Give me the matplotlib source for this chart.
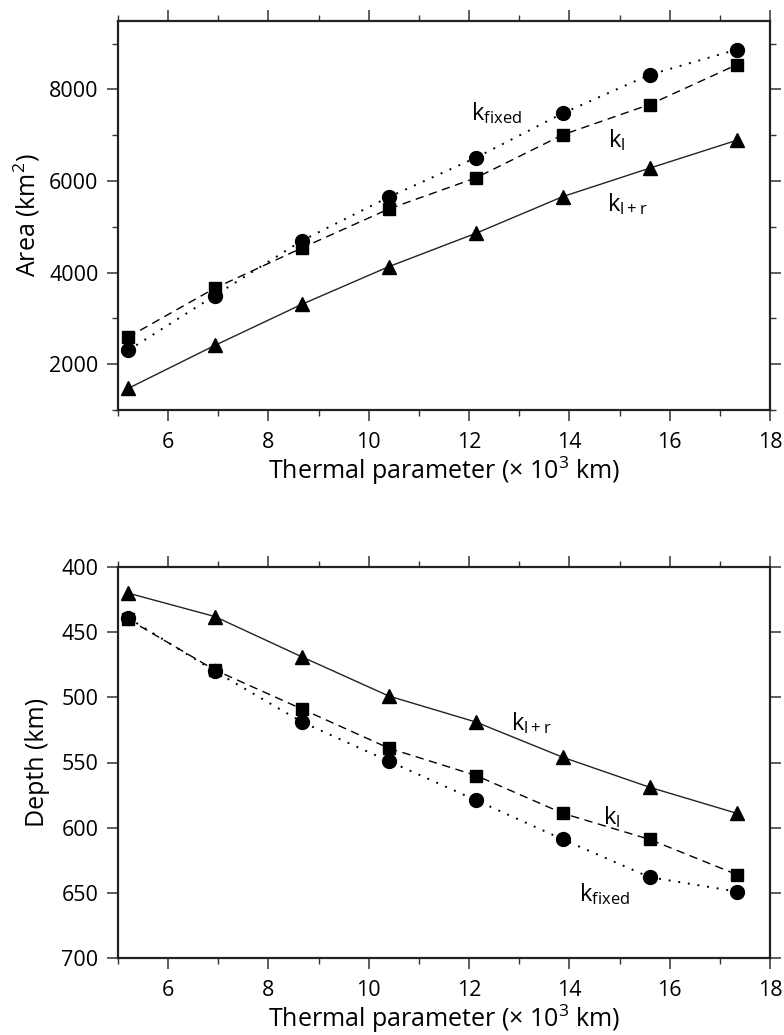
import matplotlib
matplotlib.use("Agg")
import matplotlib.pyplot as plt
from matplotlib.ticker import MultipleLocator

plt.rcParams['font.family'] = ['Open Sans', 'DejaVu Sans']
plt.rcParams['mathtext.fontset'] = 'custom'
plt.rcParams['mathtext.rm'] = 'Open Sans'
plt.rcParams['mathtext.it'] = 'Open Sans'
plt.rcParams['mathtext.default'] = 'rm'

# ---- data ----
thermal = [5.2, 6.93, 8.67, 10.4, 12.14, 13.87, 15.6, 17.34]

area_fixed = [2300, 3500, 4700, 5650, 6510, 7480, 8320, 8870]
area_l = [2590, 3660, 4540, 5390, 6070, 7010, 7670, 8540]
area_lr = [1470, 2410, 3310, 4130, 4860, 5660, 6280, 6890]

depth_fixed = [439, 480, 519, 549, 579, 609, 638, 649]
depth_l = [440, 479, 509, 539, 560, 589, 609, 636]
depth_lr = [420, 438, 469, 499, 519, 546, 569, 589]

xlabel = r'Thermal parameter ($\times$ 10$^3$ km)'
ylabel_top = r'Area (km$^2$)'
ylabel_bot = 'Depth (km)'
lab_fixed = r'k$_{\mathrm{fixed}}$'
lab_l = r'k$_{\mathrm{l}}$'
lab_lr = r'k$_{\mathrm{l+r}}$'

FS = 15.5
LFS = 18
KFS = 17

fig = plt.figure(figsize=(7.84, 10.35), dpi=100)
W, H = 784.0, 1035.0
ax1 = fig.add_axes([118 / W, 1 - 410 / H, (770 - 118) / W, (410 - 20.7) / H])
ax2 = fig.add_axes([118 / W, 1 - 958 / H, (770 - 118) / W, (958 - 567) / H])

def style(ax):
    for s in ax.spines.values():
        s.set_linewidth(1.6)
        s.set_color('#222222')
    ax.tick_params(which='both', direction='out', top=True, right=True,
                   labeltop=False, labelright=False, color='#333333',
                   labelsize=FS)
    ax.tick_params(axis='x', which='both', pad=8)
    ax.tick_params(axis='y', which='both', pad=6)
    ax.tick_params(which='major', length=8, width=1.1)
    ax.tick_params(which='minor', length=4, width=1.0)
    ax.xaxis.set_major_locator(MultipleLocator(2))
    ax.xaxis.set_minor_locator(MultipleLocator(1))
    ax.set_xlim(5, 18)
    ax.set_xlabel(xlabel, fontsize=LFS, labelpad=1)

# top panel
ax1.plot(thermal, area_fixed, linestyle=(0, (1, 4)), color='black', lw=1.4,
         marker='o', markersize=10)
ax1.plot(thermal, area_l, linestyle=(0, (6, 4)), color='black', lw=1.0,
         marker='s', markersize=9)
ax1.plot(thermal, area_lr, linestyle='-', color='#222222', lw=1.0,
         marker='^', markersize=10, markeredgecolor='black', markerfacecolor='black')
style(ax1)
ax1.set_ylim(1000, 9500)
ax1.yaxis.set_major_locator(MultipleLocator(2000))
ax1.yaxis.set_minor_locator(MultipleLocator(1000))
ax1.set_ylabel(ylabel_top, fontsize=LFS, labelpad=5)
ax1.text(12.55, 7480, lab_fixed, fontsize=KFS, ha='center', va='center')
ax1.text(14.95, 6900, lab_l, fontsize=KFS, ha='center', va='center')
ax1.text(15.15, 5500, lab_lr, fontsize=KFS, ha='center', va='center')

# bottom panel
ax2.plot(thermal, depth_fixed, linestyle=(0, (1, 4)), color='black', lw=1.4,
         marker='o', markersize=10)
ax2.plot(thermal, depth_l, linestyle=(0, (6, 4)), color='black', lw=1.0,
         marker='s', markersize=9)
ax2.plot(thermal, depth_lr, linestyle='-', color='#222222', lw=1.0,
         marker='^', markersize=10, markeredgecolor='black', markerfacecolor='black')
style(ax2)
ax2.set_ylim(700, 400)
ax2.yaxis.set_major_locator(MultipleLocator(50))
ax2.yaxis.set_minor_locator(MultipleLocator(50))
ax2.tick_params(axis='y', which='minor', length=0)
ax2.set_ylabel(ylabel_bot, fontsize=LFS, labelpad=8)
ax2.text(13.25, 520, lab_lr, fontsize=KFS, ha='center', va='center')
ax2.text(14.85, 592, lab_l, fontsize=KFS, ha='center', va='center')
ax2.text(14.7, 651, lab_fixed, fontsize=KFS, ha='center', va='center')

fig.savefig('out.png', dpi=100)
